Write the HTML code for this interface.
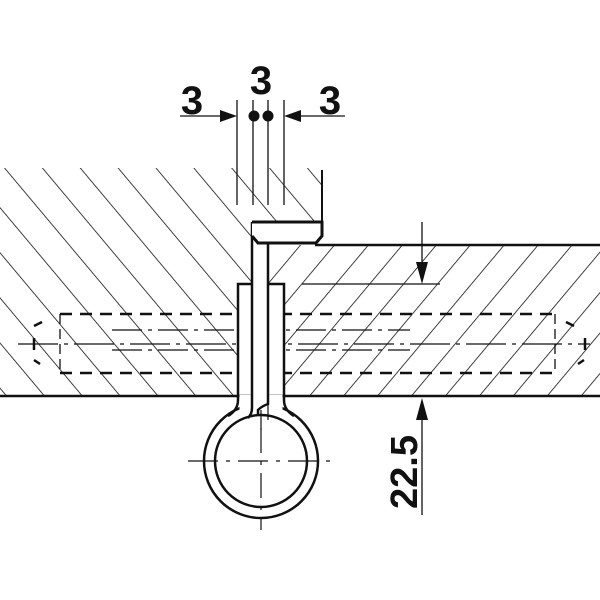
<!DOCTYPE html>
<html><head><style>html,body{margin:0;padding:0;background:#fff}svg{display:block}</style></head>
<body>
<svg width="600" height="600" viewBox="0 0 600 600" xmlns="http://www.w3.org/2000/svg">
<defs>
<pattern id="hl" patternUnits="userSpaceOnUse" width="29" height="40" patternTransform="translate(4,168) rotate(-40)">
<line x1="0" y1="-10" x2="0" y2="50" stroke="#111" stroke-width="1.6"/>
</pattern>
<pattern id="hr" patternUnits="userSpaceOnUse" width="26" height="40" patternTransform="translate(300,245) rotate(40)">
<line x1="0" y1="-10" x2="0" y2="50" stroke="#111" stroke-width="1.6"/>
</pattern>
</defs>
<path d="M0,168 H322 V222 H252 V396 H0 Z" fill="url(#hl)"/>
<path d="M268,245 H600 V396 H268 Z" fill="url(#hr)"/>
<g stroke="#111" fill="none">
<line x1="315" y1="245" x2="600" y2="245" stroke-width="2.5"/>
<line x1="0" y1="396" x2="600" y2="396" stroke-width="2.5"/>
<line x1="322" y1="170" x2="322" y2="222" stroke-width="2"/>
<line x1="60" y1="314" x2="560" y2="314" stroke-width="2.5" stroke-dasharray="12,8"/>
<line x1="60" y1="373" x2="560" y2="373" stroke-width="2.5" stroke-dasharray="12,8"/>
<path d="M42,322 L34,326 M34,338 V350 M34,360 L40,364" stroke-width="2.5"/>
<path d="M566,322 L574,326 M585,338 V350 M584,360 L578,364" stroke-width="2.5"/>
<line x1="60" y1="314" x2="60" y2="373" stroke-width="1.3" stroke-dasharray="10,5"/>
<line x1="555" y1="314" x2="555" y2="373" stroke-width="1.3" stroke-dasharray="10,5"/>
<line x1="18" y1="344" x2="590" y2="344" stroke-width="1.2" stroke-dasharray="40,6,4,6"/>
<line x1="112" y1="330" x2="410" y2="330" stroke-width="1.2" stroke-dasharray="30,6,4,6"/>
<line x1="112" y1="350" x2="410" y2="350" stroke-width="1.2" stroke-dasharray="30,6,4,6"/>
<line x1="237" y1="100" x2="237" y2="205" stroke-width="1.3"/>
<line x1="253" y1="100" x2="253" y2="205" stroke-width="1.3"/>
<line x1="268" y1="100" x2="268" y2="205" stroke-width="1.3"/>
<line x1="284" y1="100" x2="284" y2="205" stroke-width="1.3"/>
<line x1="180" y1="116" x2="220" y2="116" stroke-width="1.3"/>
<line x1="300" y1="116" x2="345" y2="116" stroke-width="1.3"/>
<line x1="422" y1="222" x2="422" y2="265" stroke-width="1.3"/>
<line x1="302" y1="284" x2="440" y2="284" stroke-width="1.3"/>
<line x1="422" y1="420" x2="422" y2="515" stroke-width="1.3"/>
</g>
<g fill="#111">
<polygon points="220,110 237,116 220,122"/>
<polygon points="301,110 284,116 301,122"/>
<circle cx="254" cy="116" r="5.5"/><circle cx="268" cy="116" r="5.5"/>
<polygon points="416,262 422,284 428,262"/>
<polygon points="416,420 422,398 428,420"/>
</g>
<rect x="238" y="284" width="46" height="112" fill="#fff" stroke="#111" stroke-width="2.5"/>
<circle cx="261" cy="461" r="57" fill="#fff" stroke="#111" stroke-width="2.5"/>
<rect x="239.5" y="395" width="43" height="20" fill="#fff"/>
<path d="M238,396 V400 Q238,410 228,416 M284,396 V400 Q284,410 294,416" stroke="#111" stroke-width="2.5" fill="none"/>
<circle cx="261" cy="461" r="46" fill="#fff" stroke="#111" stroke-width="2.5"/>
<rect x="252" y="222" width="16" height="190" fill="#fff"/>
<g stroke="#111" fill="none">
<path d="M252,222 V408 Q252,414 248,418" stroke-width="2.5"/>
<path d="M268,243 V404 Q262,406 258,410 V414" stroke-width="2.5"/>
<path d="M252,222 H322 V236 L316,243 H268 L258,243 L252,236" stroke-width="3" fill="#fff"/>
<path d="M268,400 V420 M261,410 V430" stroke-width="1.2"/>
<line x1="188" y1="461" x2="338" y2="461" stroke-width="1.2" stroke-dasharray="30,8,4,8"/>
<line x1="261" y1="428" x2="261" y2="530" stroke-width="1.2" stroke-dasharray="25,8,4,8"/>
</g>
<g font-family="Liberation Sans, sans-serif" font-weight="bold" font-size="40" fill="#111" text-anchor="middle">
<text x="192" y="114">3</text>
<text x="261" y="94">3</text>
<text x="330" y="114">3</text>
<text transform="translate(417,472) rotate(-90)" font-size="38">22.5</text>
</g>
</svg>
</body></html>
